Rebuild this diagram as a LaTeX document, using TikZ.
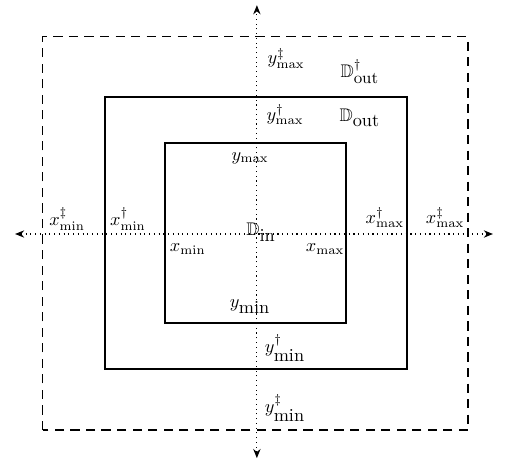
\documentclass[tikz,border=0pt]{standalone}
\usepackage{amsmath, amssymb}
\usetikzlibrary{arrows.meta}

\begin{document}
\begin{tikzpicture}
\tikzstyle{axis}=[dotted, semithick, {Stealth[length=5pt,width=4pt]}-{Stealth[length=5pt,width=4pt]}]
\tikzstyle{boxin}=[thick]
\tikzstyle{boxout}=[thick]
\tikzstyle{boxfar}=[semithick, dash pattern=on 5pt off 3.5pt]
\tikzstyle{lab}=[inner sep=0pt]

\useasboundingbox (-4.94,-4.365) rectangle (5.06,4.5);

\coordinate (w) at (-4.65,0);
\coordinate (e) at (4.54,0);
\coordinate (s) at (0,-4.31);
\coordinate (n) at (0,4.4);

\draw[axis] (w) -- (e);
\draw[axis] (s) -- (n);

\draw[boxfar] (-4.12,-3.77) rectangle (4.06,3.79);
\draw[boxout] (-2.92,-2.6) rectangle (2.885,2.635);
\draw[boxin] (-1.77,-1.71) rectangle (1.71,1.75);

\node (xminf) at (-3.65,0.29) [lab] {$x^{\ddagger}_{\min}$};
\node (xmino) at (-2.48,0.29) [lab] {$x^{\dagger}_{\min}$};
\node (xmin) at (-1.33,-0.29) [lab] {$x_{\min}$};
\node (xmax) at (1.31,-0.29) [lab] {$x_{\max}$};
\node (xmaxo) at (2.46,0.31) [lab] {$x^{\dagger}_{\max}$};
\node (xmaxf) at (3.62,0.31) [lab] {$x^{\ddagger}_{\max}$};

\node (ymax) at (-0.13,1.46) [lab] {$y_{\max}$};
\node (ymaxo) at (0.54,2.29) [lab] {$y^{\dagger}_{\max}$};
\node (ymaxf) at (0.56,3.38) [lab] {$y^{\ddagger}_{\max}$};
\node (ymin) at (-0.13,-1.4) [lab] {$y_{\text{\normalsize min}}$};
\node (ymino) at (0.54,-2.19) [lab] {$y^{\dagger}_{\text{\normalsize min}}$};
\node (yminf) at (0.54,-3.35) [lab] {$y^{\ddagger}_{\text{\normalsize min}}$};

\node (din) at (0.08,0.03) [lab] {$\mathbb{D}_{\text{\normalsize in}}$};
\node (dout) at (1.98,2.23) [lab] {$\mathbb{D}_{\text{\normalsize out}}$};
\node (doutf) at (1.98,3.12) [lab] {$\mathbb{D}^{\dagger}_{\text{\small out}}$};
\end{tikzpicture}
\end{document}
